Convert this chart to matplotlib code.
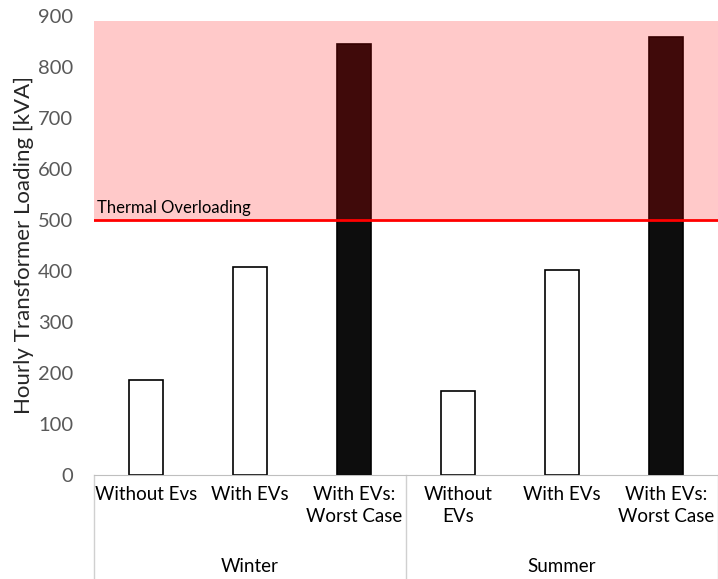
import matplotlib.pyplot as plt
import numpy as np

# data
categories = ["Without Evs", "With EVs", "With EVs:\nWorst Case",
              "Without\nEVs", "With EVs", "With EVs:\nWorst Case"]
seasons = ["Winter", "Summer"]
loading = [186, 408, 845, 165, 402, 858]
worst_case = [False, False, True, False, False, True]
limit = 500
zone_top = 890

plt.rcParams['font.family'] = ['Lato', 'DejaVu Sans']

fig = plt.figure(figsize=(7.18, 5.79), dpi=100)
ax = fig.add_axes([0.131, 0.1796, 0.869, 0.7928])

x = np.arange(len(categories))
colors = ['#0d0d0d' if w else 'white' for w in worst_case]
ax.bar(x, loading, width=0.33, color=colors, edgecolor='black', linewidth=1.2, zorder=2)

# overloading zone and threshold line
ax.axhspan(limit, zone_top, color='red', alpha=0.21, linewidth=0, zorder=3)
ax.axhline(limit, color='red', linewidth=2, zorder=4)
ax.text(-0.47, limit + 8, "Thermal Overloading", fontsize=12, color='black',
        va='bottom', ha='left', zorder=5)

ax.set_xlim(-0.5, len(categories) - 0.5)
ax.set_ylim(0, 900)
ax.set_yticks(np.arange(0, 901, 100))
ax.tick_params(axis='y', length=0, labelsize=14.5, labelcolor='#595959', pad=15)
ax.set_xticks(x)
ax.set_xticklabels(categories, fontsize=13.5, color='black', linespacing=1.35)
ax.tick_params(axis='x', length=0, pad=8)

for s in ['top', 'right', 'left']:
    ax.spines[s].set_visible(False)
ax.spines['bottom'].set_color('#bfbfbf')
ax.spines['bottom'].set_zorder(6)

ax.set_ylabel("Hourly Transformer Loading [kVA]", fontsize=16, color='#262626', labelpad=3)

# group separators and season labels
trans = ax.get_xaxis_transform()
for xs in [-0.5, 2.5, 5.5]:
    ax.plot([xs, xs], [0, -0.26], color='#d0d0d0', linewidth=1, transform=trans, clip_on=False)
for i, s in enumerate(seasons):
    ax.text(i * 3 + 1, -0.2, s, transform=trans, ha='center', va='center', fontsize=13.5)

fig.savefig("out.png", dpi=100)
